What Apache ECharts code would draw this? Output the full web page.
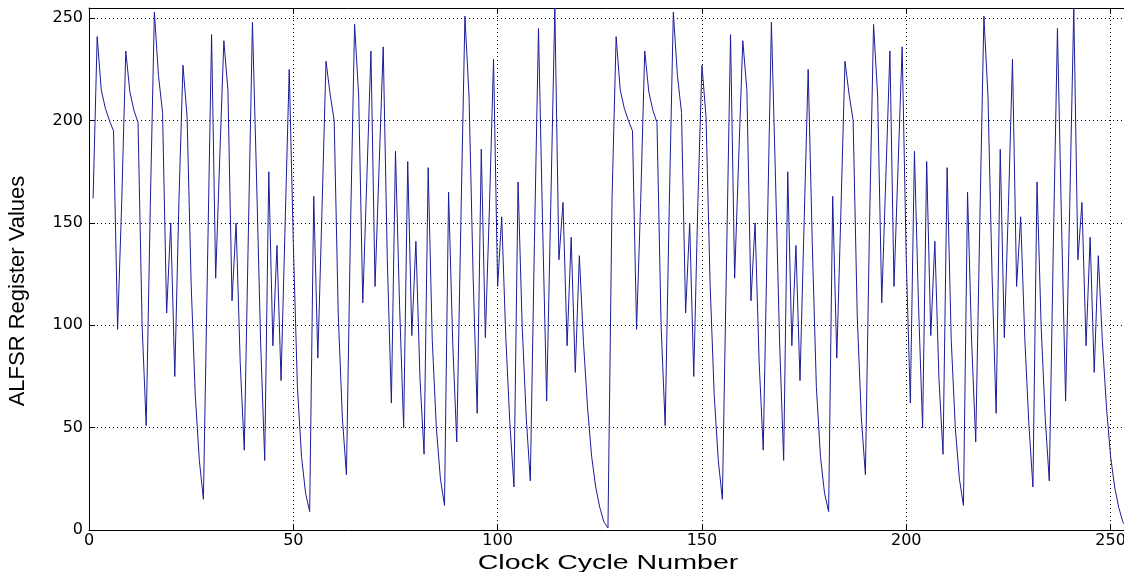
<!DOCTYPE html>
<html>
<head>
<meta charset="utf-8">
<script src="https://cdn.jsdelivr.net/npm/echarts@6/dist/echarts.min.js"></script>
<style>
html,body{margin:0;padding:0;background:#fff;overflow:hidden;}
#chart{width:1124px;height:572px;}
</style>
</head>
<body>
<div id="chart"></div>
<script>
// First clock cycle plotted (MATLAB-style 1-based index)
const firstCycle = 1;

// Register values, cycles 1..127
const periodOne = [
  162, 241, 215, 206, 200, 195,  98, 160, 234, 214,
  205, 199, 100,  51, 158, 253, 222, 204, 106, 150,
   75, 160, 227, 202, 120,  66,  34,  15, 130, 242,
  123, 182, 239, 215, 112, 150,  82,  39, 145, 248,
  172,  92,  34, 175,  90, 139,  73, 150, 225, 140,
   70,  36,  18,   9, 163,  84, 155, 229, 213, 200,
  105,  55,  27, 148, 247, 212, 111, 172, 234, 119,
  178, 236, 132,  62, 185, 110,  50, 180,  95, 141,
   74,  37, 177,  93,  50,  25,  12, 165,  92,  43,
  150, 251, 212, 124,  57, 186,  94, 158, 230, 119,
  153,  94,  52,  21, 170, 100,  55,  24, 140, 245,
  150,  63, 158, 255, 132, 160,  90, 143,  77, 134,
   92,  60,  36,  21,  11,   4,   1
];

// Register values, cycles 128..254
const periodTwo = [
  162, 241, 215, 206, 200, 195,  98, 160, 234, 214,
  205, 199, 100,  51, 158, 253, 222, 204, 106, 150,
   75, 160, 227, 202, 120,  66,  34,  15, 130, 242,
  123, 182, 239, 215, 112, 150,  82,  39, 145, 248,
  172,  92,  34, 175,  90, 139,  73, 150, 225, 140,
   70,  36,  18,   9, 163,  84, 155, 229, 213, 200,
  105,  55,  27, 148, 247, 212, 111, 172, 234, 119,
  178, 236, 132,  62, 185, 110,  50, 180,  95, 141,
   74,  37, 177,  93,  50,  25,  12, 165,  92,  43,
  150, 251, 212, 124,  57, 186,  94, 158, 230, 119,
  153,  94,  52,  21, 170, 100,  55,  24, 140, 245,
  150,  63, 158, 255, 132, 160,  90, 143,  77, 134,
   92,  60,  36,  21,  11,   4,   1
];

const xRange = [0, 255];
const yRange = [0, 255];
const tickStep = 50;
const xTitle = 'Clock Cycle Number';
const yTitle = 'ALFSR Register Values';

const registerValues = periodOne.concat(periodTwo);
const seriesData = registerValues.map((v, i) => [firstCycle + i, v]);

const chart = echarts.init(document.getElementById('chart'), null, {renderer: 'canvas'});
const labelFont = '"DejaVu Sans", "Liberation Sans", Arial, sans-serif';
const titleFont = '"Liberation Sans", Arial, sans-serif';
const onlySteps = v => (v % tickStep === 0 ? String(v) : '');

const baseAxis = (pos, range, showLabels) => ({
  type: 'value',
  position: pos,
  min: range[0],
  max: range[1],
  interval: tickStep,
  axisLine: {show: true, onZero: false, lineStyle: {color: '#000', width: 1}},
  axisTick: {show: true, inside: true, length: 6, lineStyle: {color: '#000', width: 1}},
  axisLabel: {show: showLabels, formatter: onlySteps, color: '#000', fontFamily: labelFont, fontSize: 16},
  splitLine: {show: false}
});

const xMain = baseAxis('bottom', xRange, true);
xMain.axisLabel.margin = 3;
xMain.splitLine = {show: true, lineStyle: {color: '#000', width: 1, type: [1, 3]}};

const xTop = baseAxis('top', xRange, false);

const yMain = baseAxis('left', yRange, true);
yMain.axisLabel.margin = 6;
yMain.splitLine = {show: true, lineStyle: {color: '#000', width: 1, type: [1, 3]}};

const yRight = baseAxis('right', yRange, false);

chart.setOption({
  animation: false,
  backgroundColor: '#ffffff',
  grid: {left: 89, top: 8, width: 1042, height: 522, containLabel: false, outerBoundsMode: 'none'},
  xAxis: [xMain, xTop],
  yAxis: [yMain, yRight],
  graphic: [
    {
      type: 'text',
      x: 608, y: 563,
      scaleX: 1.43,
      style: {text: xTitle, fill: '#000', font: '20px ' + titleFont, align: 'center', verticalAlign: 'middle'}
    },
    {
      type: 'text',
      x: 18, y: 291,
      rotation: Math.PI / 2,
      style: {text: yTitle, fill: '#000', font: '22px ' + titleFont, align: 'center', verticalAlign: 'middle'}
    }
  ],
  series: [{
    type: 'line',
    xAxisIndex: 0,
    yAxisIndex: 0,
    data: seriesData,
    showSymbol: false,
    symbol: 'none',
    lineStyle: {color: '#1c1c98', width: 1},
    clip: true
  }]
});
</script>
</body>
</html>
